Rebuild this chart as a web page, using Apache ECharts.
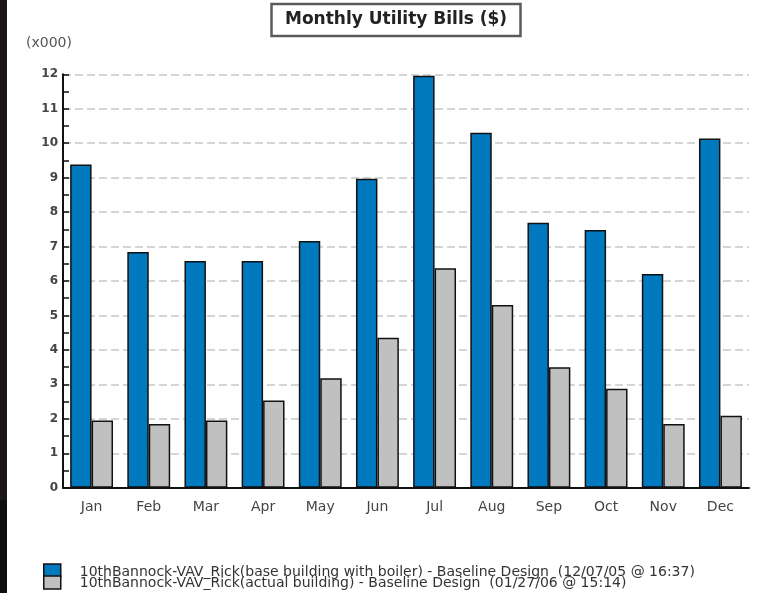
<!DOCTYPE html>
<html>
<head>
<meta charset="utf-8">
<style>
  html, body { margin: 0; padding: 0; background: #ffffff; }
  #chart { width: 757px; height: 593px; }
</style>
<script src="https://cdn.jsdelivr.net/npm/echarts@6/dist/echarts.min.js"></script>
</head>
<body>
<div id="chart"></div>
<script>
// Monthly utility bills, in thousands of dollars
const months = ['Jan', 'Feb', 'Mar', 'Apr', 'May', 'Jun', 'Jul', 'Aug', 'Sep', 'Oct', 'Nov', 'Dec'];
const baseBuilding = [9.38, 6.84, 6.58, 6.58, 7.16, 8.97, 11.96, 10.3, 7.69, 7.48, 6.2, 10.14];
const actualBuilding = [1.95, 1.85, 1.95, 2.53, 3.18, 4.35, 6.37, 5.3, 3.5, 2.87, 1.85, 2.09];
const seriesNames = [
  '10thBannock-VAV_Rick(base building with boiler) - Baseline Design  (12/07/05 @ 16:37)',
  '10thBannock-VAV_Rick(actual building) - Baseline Design  (01/27/06 @ 15:14)'
];
const yTicks = [0, 1, 2, 3, 4, 5, 6, 7, 8, 9, 10, 11, 12];

const FONT = 'DejaVu Sans, Verdana, sans-serif';
const chart = echarts.init(document.getElementById('chart'), null, { renderer: 'canvas' });

// One legend row per series so each swatch sits flush under the previous one;
// the label box stays 13px tall, split between top padding and line height.
function legendRow(name, top, padTop) {
  return {
    orient: 'vertical',
    left: 43,
    top: top,
    padding: 0,
    itemWidth: 17,
    itemHeight: 13,
    itemGap: 0,
    icon: 'rect',
    itemStyle: { borderColor: '#111111', borderWidth: 1.5 },
    data: [name],
    formatter: '{t|{name}}',
    textStyle: {
      fontFamily: FONT, fontSize: 14, color: '#333333',
      rich: {
        t: {
          fontFamily: FONT, fontSize: 14, color: '#333333',
          lineHeight: 13 - padTop,
          padding: [padTop, 0, 0, 14]
        }
      }
    }
  };
}

chart.setOption({
  backgroundColor: '#ffffff',
  animation: false,
  title: {
    text: 'Monthly Utility Bills ($)',
    left: 271,
    top: 4,
    padding: [7.5, 14, 7.5, 14],
    borderColor: '#5a5a5a',
    borderWidth: 2.5,
    textStyle: { fontFamily: FONT, fontSize: 17, fontWeight: 'bold', color: '#222222', lineHeight: 17 }
  },
  graphic: [
    { type: 'rect', left: 0, top: 0, shape: { width: 7, height: 500 }, style: { fill: '#1a1616' }, silent: true },
    { type: 'rect', left: 0, top: 500, shape: { width: 7, height: 93 }, style: { fill: '#0e0e0e' }, silent: true },
    {
      type: 'text', left: 26, top: 36,
      style: { text: '(x000)', font: '14px ' + FONT, fill: '#555555' }
    }
  ],
  legend: [
    legendRow(seriesNames[0], 562, 3),
    legendRow(seriesNames[1], 575, 1)
  ],
  grid: { left: 63, right: 8, top: 74.3, bottom: 105.3, containLabel: false },
  xAxis: {
    type: 'category',
    data: months,
    boundaryGap: true,
    axisLine: { lineStyle: { color: '#111111', width: 2 } },
    axisTick: { alignWithLabel: true, length: 5, lineStyle: { color: '#111111', width: 1.5 } },
    axisLabel: { margin: 13, fontFamily: FONT, fontSize: 14, color: '#444444' },
    splitLine: { show: false }
  },
  yAxis: {
    type: 'value',
    min: yTicks[0],
    max: yTicks[yTicks.length - 1],
    interval: 1,
    axisLine: { show: true, lineStyle: { color: '#111111', width: 2 } },
    axisTick: { show: true, inside: true, length: 6, lineStyle: { color: '#111111', width: 1.5 } },
    minorTick: { show: true, splitNumber: 2, length: 6, lineStyle: { color: '#111111', width: 1.5 } },
    axisLabel: { margin: 5, fontFamily: FONT, fontSize: 12, fontWeight: 'bold', color: '#444444' },
    splitLine: { show: true, lineStyle: { color: '#c8c8c8', width: 1.5, type: [8, 4] } }
  },
  series: [
    {
      name: seriesNames[0],
      type: 'bar',
      data: baseBuilding,
      barGap: '0%',
      barCategoryGap: '25%',
      itemStyle: { color: '#0079bf', borderColor: '#111111', borderWidth: 1.5 }
    },
    {
      name: seriesNames[1],
      type: 'bar',
      data: actualBuilding,
      itemStyle: { color: '#c0c0c0', borderColor: '#111111', borderWidth: 1.5 }
    }
  ]
});
</script>
</body>
</html>
